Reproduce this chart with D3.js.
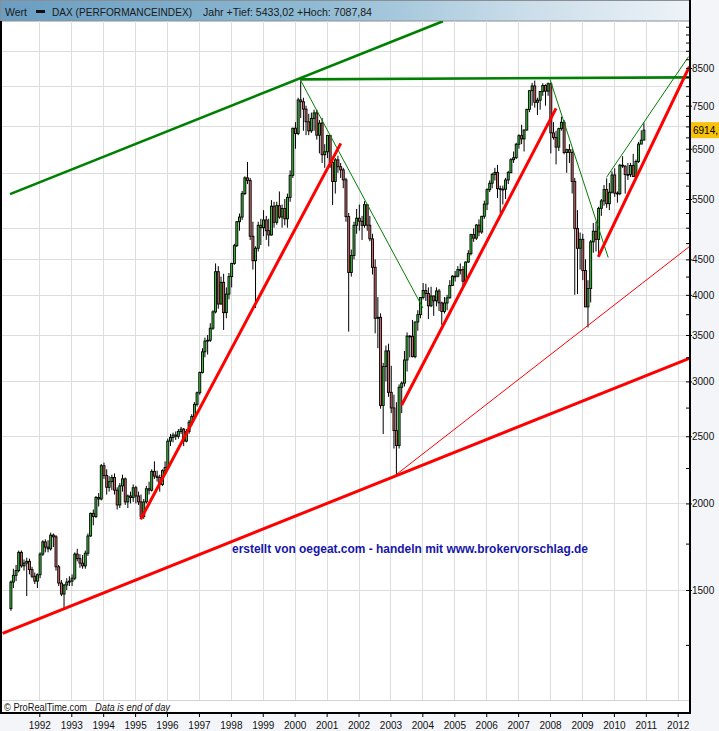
<!DOCTYPE html>
<html><head><meta charset="utf-8">
<script src="https://cdn.jsdelivr.net/npm/d3@7"></script>
<style>
body{margin:0;background:#f3f5f8;}
svg{display:block;font-family:"Liberation Sans",Arial,sans-serif;}
</style>
</head><body>
<svg id="c" width="719" height="731"></svg>
<script>
// ---------- DATA ----------
const firstMonth = "1991-02";
const openV = [
 1410,1540,1575,1600,1700,1625,1640,1650,1605,1570,1545,
 1578,1690,1760,1730,1720,1800,1790,1620,1535,1480,1525,1540,
 1545,1560,1690,1665,1640,1625,1695,1795,1935,1915,2040,2030,
 2267,2195,2110,2150,2180,2090,1990,2120,2170,2010,2050,2040,
 2107,2050,2010,1915,2010,2100,2090,2225,2190,2180,2130,2230,
 2254,2460,2490,2510,2500,2540,2560,2460,2540,2620,2670,2780,
 2889,3090,3310,3430,3440,3580,3780,4320,3880,4170,3770,4010,
 4250,4440,4710,5100,5180,5600,5900,5850,4860,4480,4670,5040,
 5000,5130,4950,4880,5370,5090,5380,5180,5330,5150,5530,5950,
 6958,6835,7644,7599,7414,7109,6898,7190,7322,6799,7078,6372,
 6434,6795,6208,5830,6264,6123,6058,5861,5188,4308,4559,5040,
 5160,5108,5039,5397,5041,4818,4383,3700,3712,2769,3153,3320,
 2893,2747,2548,2424,2942,2983,3221,3487,3485,3257,3655,3745,
 3965,4058,4018,3857,3985,3921,4052,3895,3785,3893,3960,4126,
 4256,4255,4350,4349,4185,4460,4587,4886,4829,5044,4929,5193,
 5408,5674,5796,5970,6009,5692,5683,5681,5859,6004,6268,6309,
 6597,6789,6716,6917,7409,7883,8007,7584,7638,7862,8019,7871,
 8067,6852,6748,6535,6949,7097,6418,6480,6422,5831,4988,4669,
 4810,4338,3843,4085,4770,4941,4809,5332,5465,5675,5415,5625,
 5957,5608,5598,6154,6136,5965,5966,6148,5925,6229,6601,6688
];
const highV = [
 1548,1610,1630,1710,1710,1660,1670,1665,1620,1590,1585,
 1700,1770,1775,1770,1815,1810,1800,1630,1550,1530,1560,1570,
 1580,1700,1720,1690,1685,1710,1810,1940,1960,2050,2070,2280,
 2290,2240,2190,2200,2210,2110,2140,2200,2180,2060,2080,2130,
 2120,2080,2060,2030,2120,2150,2240,2300,2230,2200,2240,2300,
 2480,2520,2530,2540,2560,2580,2570,2560,2640,2690,2800,2900,
 3100,3350,3470,3500,3640,3800,4440,4400,4250,4290,4100,4300,
 4450,4740,5110,5240,5650,5930,6220,5900,5100,4700,5100,5150,
 5300,5200,5150,5480,5450,5450,5640,5400,5500,5600,6050,6970,
 7100,7700,8136,7700,7500,7300,7330,7400,7400,7150,7200,6600,
 6800,6800,6250,6300,6350,6200,6100,5900,5250,4650,5100,5320,
 5400,5200,5460,5400,5200,4900,4500,3970,3760,3190,3380,3400,
 3160,2870,2800,2970,3000,3320,3530,3500,3680,3660,3800,3970,
 4160,4150,4100,4110,3990,4100,4080,3910,3970,4000,4200,4270,
 4330,4400,4440,4400,4470,4640,4900,4990,5060,5140,5200,5470,
 5700,5850,6000,6100,6160,5750,5750,5900,6040,6300,6440,6630,
 6820,7040,6930,7420,7890,8090,8152,7700,7870,8080,8050,8100,
 8100,7100,6900,6970,7230,7150,6500,6600,6500,5900,5300,4920,
 4900,4500,4200,4800,5080,5100,5360,5500,5760,5890,5800,6030,
 6090,5640,6180,6340,6150,6200,6200,6390,6270,6650,6910,7088
];
const lowV = [
 1400,1510,1545,1590,1615,1600,1470,1580,1560,1530,1510,
 1560,1680,1700,1700,1710,1730,1600,1520,1470,1412,1500,1520,
 1520,1550,1650,1615,1610,1610,1680,1790,1860,1905,1980,2020,
 2170,2060,2080,2090,2060,1960,1970,2080,1990,1970,2000,2010,
 2000,1990,1900,1900,2000,2060,2080,2170,2150,2080,2120,2210,
 2250,2420,2450,2470,2480,2520,2420,2450,2520,2590,2660,2760,
 2870,3080,3250,3280,3420,3560,3760,3820,3870,3560,3700,3940,
 4100,4420,4690,4950,5130,5570,5780,4800,4350,3830,4620,4720,
 4860,4800,4700,4870,5000,5050,5150,5000,5040,5000,5450,5900,
 6500,6800,7200,6900,6800,6800,6850,6900,6700,6400,6200,6100,
 6300,6100,5390,5600,6000,5900,5700,5100,3540,4250,4500,4900,
 4950,4800,5000,4950,4780,4280,3520,3350,2740,2519,3000,2850,
 2700,2400,2189,2400,2700,2950,3100,3250,3250,3240,3550,3700,
 3940,3920,3690,3840,3730,3850,3790,3620,3760,3800,3950,4120,
 4180,4240,4280,4120,4170,4450,4560,4770,4800,4860,4900,5150,
 5300,5630,5700,5850,5520,5250,5400,5500,5780,5990,6200,6280,
 6500,6600,6440,6900,7340,7500,7450,7270,7400,7750,7500,7750,
 6400,6700,6170,6450,6900,6380,6000,6200,5600,4000,4010,4350,
 4200,3850,3589,3900,4600,4620,4570,5200,5380,5340,5300,5600,
 5540,5433,5570,6100,5600,5860,5920,5920,5900,6200,6600,6700
];
const closeV = [
 1540,1575,1600,1700,1625,1640,1650,1605,1570,1545,1578,
 1690,1760,1730,1720,1800,1790,1620,1535,1480,1525,1540,1545,
 1560,1690,1665,1640,1625,1695,1795,1935,1915,2040,2030,2267,
 2195,2110,2150,2180,2090,1990,2120,2170,2010,2050,2040,2107,
 2050,2010,1915,2010,2100,2090,2225,2190,2180,2130,2230,2254,
 2460,2490,2510,2500,2540,2560,2460,2540,2620,2670,2780,2889,
 3090,3310,3430,3440,3580,3780,4320,3880,4170,3770,4010,4250,
 4440,4710,5100,5180,5600,5900,5850,4860,4480,4670,5040,5000,
 5130,4950,4880,5370,5090,5380,5180,5330,5150,5530,5950,6958,
 6835,7644,7599,7414,7109,6898,7190,7322,6799,7078,6372,6434,
 6795,6208,5830,6264,6123,6058,5861,5188,4308,4559,5040,5160,
 5108,5039,5397,5041,4818,4383,3700,3712,2769,3153,3320,2893,
 2747,2548,2424,2942,2983,3221,3487,3485,3257,3655,3745,3965,
 4058,4018,3857,3985,3921,4052,3895,3785,3893,3960,4126,4256,
 4255,4350,4349,4185,4460,4587,4886,4829,5044,4929,5193,5408,
 5674,5796,5970,6009,5692,5683,5681,5859,6004,6268,6309,6597,
 6789,6716,6917,7409,7883,8007,7584,7638,7862,8019,7871,8067,
 6852,6748,6535,6949,7097,6418,6480,6422,5831,4988,4669,4810,
 4338,3843,4085,4770,4941,4809,5332,5465,5675,5415,5625,5957,
 5608,5598,6154,6136,5965,5966,6148,5925,6229,6601,6688,6914
];
const yearLabels = ["1992","1993","1994","1995","1996","1997","1998","1999","2000","2001","2002","2003","2004","2005","2006","2007","2008","2009","2010","2011","2012"];
const priceTicks = [1250,1500,1750,2000,2250,2500,2750,3000,3250,3500,3750,4000,4250,4500,4750,5000,5250,5500,5750,6000,6250,6500,6750,7000,7250,7500,7750,8000,8250,8500,8750,9000,9250,9500,9750];
const priceLabels = [1500,2000,2500,3000,3500,4000,4500,5500,6500,7500,8500];
const gridValues = [1500,2000,2500,3000,3500,4000,4500,5000,6000,7000,8000,9000];
// trend lines drawn on the chart: [[date, value],[date, value]]
const redThickLines = [
 [["1990-11-07",1299],["2012-05-13",3239]],
 [["1995-03-06",1897],["2001-06-12",6617]],
 [["2003-05-10",2774],["2008-03-10",7432]],
 [["2009-07-06",4539],["2012-05-13",8535]]
];
const redThinLines = [
 [["2003-03-16",2205],["2012-05-13",4695]]
];
const greenThickLines = [
 [["1991-01-31",5590],["2004-08-24",9930]],
 [["2000-03-03",8185],["2012-05-10",8240]]
];
const greenThinLines = [
 [["2000-03-03",8185],["2004-01-08",3828]],
 [["2008-01-01",8185],["2009-10-28",4527]],
 [["2009-10-08",5910],["2012-05-04",8828]]
];
const lastPrice = "6914,";
const headerTexts = ["Wert","DAX (PERFORMANCEINDEX)","Jahr +Tief: 5433,02 +Hoch: 7087,84"];
const footerTexts = ["© ProRealTime.com","Data is end of day"];
const watermark = "erstellt von oegeat.com - handeln mit www.brokervorschlag.de";

// ---------- CHART ----------
const svg = d3.select("#c");
const P = {l:2, r:690, t:21, b:700, fb:713};
const parse = d3.timeParse("%Y-%m-%d");
const x = d3.scaleTime().domain([new Date(1992,0,1), new Date(2012,0,1)]).range([39.3, 677.7]);
const y = d3.scaleLog().domain([1500,8500]).range([590,68]);

const defs = svg.append("defs");
const g1 = defs.append("linearGradient").attr("id","hdr").attr("x1","0").attr("x2","1").attr("y1","0").attr("y2","0");
[[0,"#6a9dc1"],[0.45,"#8ebad3"],[0.75,"#c8dce9"],[1,"#eef3f8"]].forEach(s=>g1.append("stop").attr("offset",s[0]).attr("stop-color",s[1]));
defs.append("clipPath").attr("id","pc").append("rect").attr("x",P.l).attr("y",P.t).attr("width",P.r-P.l).attr("height",P.b-P.t);

// plot background
svg.append("rect").attr("x",P.l).attr("y",P.t).attr("width",P.r-P.l).attr("height",P.fb-P.t).attr("fill","#ffffff");
// header
svg.append("rect").attr("x",0.5).attr("y",0.5).attr("width",P.r-0.5).attr("height",P.t-0.5).attr("fill","url(#hdr)").attr("stroke","#8a8f96").attr("stroke-width",1);
const hdrPos = [[5,22],[52,140],[203,169]];
headerTexts.forEach((t,i)=>{
  svg.append("text").attr("x",hdrPos[i][0]).attr("y",15.5).attr("font-size","10.5px").attr("fill","#1a1a1a")
    .attr("textLength",hdrPos[i][1]).attr("lengthAdjust","spacingAndGlyphs").text(t);
});
svg.append("rect").attr("x",36).attr("y",10).attr("width",9).attr("height",3).attr("fill","#111");

const years = yearLabels.map(s=>new Date(+s,0,1));
// grid
const grid = svg.append("g").attr("stroke","#dddddd").attr("stroke-width",1);
grid.selectAll(".gv").data(years).join("line")
  .attr("x1",d=>Math.round(x(d))+0.5).attr("x2",d=>Math.round(x(d))+0.5).attr("y1",P.t).attr("y2",P.b);
grid.selectAll(".gh").data(gridValues).join("line")
  .attr("x1",P.l).attr("x2",P.r).attr("y1",d=>Math.round(y(d))+0.5).attr("y2",d=>Math.round(y(d))+0.5);
svg.append("line").attr("x1",P.l).attr("x2",P.r).attr("y1",P.b+0.5).attr("y2",P.b+0.5).attr("stroke","#d4d4d4");

// candles
const start = parse(firstMonth+"-01");
const candles = openV.map((o,i)=>({d:d3.timeMonth.offset(start,i),o,h:highV[i],l:lowV[i],c:closeV[i]}));
const cg = svg.append("g").attr("clip-path","url(#pc)");
cg.selectAll(".w").data(candles).join("line")
  .attr("x1",d=>x(d.d)+0.8).attr("x2",d=>x(d.d)+0.8)
  .attr("y1",d=>y(d.h)).attr("y2",d=>y(d.l))
  .attr("stroke","#000").attr("stroke-width",1);
cg.selectAll(".b").data(candles).join("rect")
  .attr("x",d=>x(d.d)-0.2).attr("width",2)
  .attr("y",d=>y(Math.max(d.o,d.c))).attr("height",d=>Math.max(0.8,Math.abs(y(d.o)-y(d.c))))
  .attr("fill",d=>d.c>=d.o?"#38c038":"#d06666")
  .attr("stroke","#000").attr("stroke-width",0.9);

// trend lines
const lg = svg.append("g").attr("clip-path","url(#pc)").attr("fill","none");
function drawLines(arr,color,w){
  lg.selectAll(null).data(arr).join("line")
    .attr("x1",d=>x(parse(d[0][0]))).attr("y1",d=>y(d[0][1]))
    .attr("x2",d=>x(parse(d[1][0]))).attr("y2",d=>y(d[1][1]))
    .attr("stroke",color).attr("stroke-width",w);
}
drawLines(redThinLines,"#ff0000",1);
drawLines(greenThinLines,"#008000",1);
drawLines(greenThickLines,"#008000",2.6);
drawLines(redThickLines,"#ff0000",3);

// watermark
svg.append("text").attr("x",232).attr("y",553).attr("font-size","12px").attr("font-weight","bold").attr("fill","#1616a8")
  .attr("textLength",356).attr("lengthAdjust","spacingAndGlyphs").text(watermark);

// footer
svg.append("text").attr("x",4).attr("y",710.5).attr("font-size","10px").attr("fill","#111")
  .attr("textLength",83).attr("lengthAdjust","spacingAndGlyphs").text(footerTexts[0]);
svg.append("text").attr("x",95).attr("y",710.5).attr("font-size","10px").attr("font-style","italic").attr("fill","#111")
  .attr("textLength",75).attr("lengthAdjust","spacingAndGlyphs").text(footerTexts[1]);

// borders
svg.append("line").attr("x1",1).attr("x2",1).attr("y1",P.t).attr("y2",P.fb+1).attr("stroke","#000").attr("stroke-width",2);
svg.append("line").attr("x1",0).attr("x2",P.r+1).attr("y1",P.fb).attr("y2",P.fb).attr("stroke","#000").attr("stroke-width",2);
svg.append("line").attr("x1",P.r).attr("x2",P.r).attr("y1",0).attr("y2",P.fb+1).attr("stroke","#000").attr("stroke-width",2);

// right axis
const ya = svg.append("g").attr("transform",`translate(${P.r},0)`);
ya.call(d3.axisRight(y).tickValues(priceTicks).tickSize(0).tickFormat("")).select(".domain").remove();
ya.selectAll(".tick").each(function(d){
  const t = d3.select(this);
  t.append("line").attr("x1",-4).attr("x2",priceLabels.includes(d)?2:0).attr("stroke","#000");
  if(priceLabels.includes(d)) t.append("text").attr("x",2).attr("dy","0.35em").attr("font-size","10px").attr("fill","#111").attr("text-anchor","start").text(d);
});

// bottom axis
const xa = svg.append("g").attr("transform",`translate(0,${P.fb})`);
xa.call(d3.axisBottom(x).tickValues(years).tickSize(4).tickFormat(d3.timeFormat("%Y")))
  .call(g=>g.select(".domain").remove())
  .call(g=>g.selectAll("text").attr("font-size","10px").attr("fill","#111").attr("font-family","Liberation Sans, Arial, sans-serif").attr("dy","0.9em"));

// last price tag
svg.append("rect").attr("x",P.r+1).attr("y",y(6914)-8).attr("width",30).attr("height",16).attr("fill","#f7c20a");
svg.append("text").attr("x",P.r+3).attr("y",y(6914)).attr("dy","0.35em").attr("font-size","10px").attr("fill","#000").text(lastPrice);
</script>
</body></html>
